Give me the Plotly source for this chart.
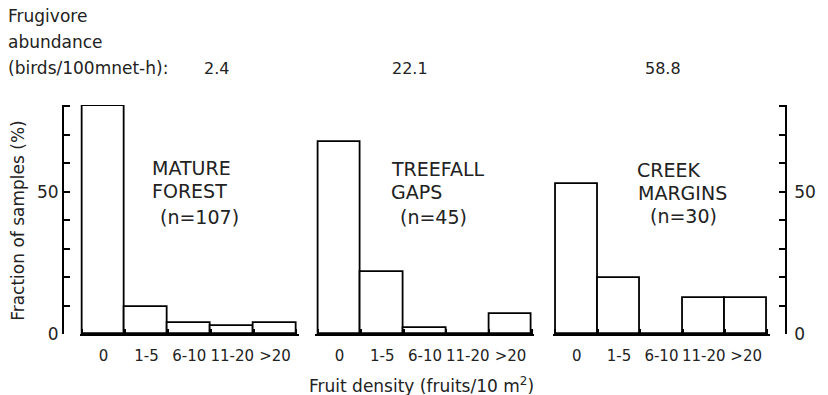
import plotly.graph_objects as go

categories = ["0", "1-5", "6-10", "11-20", ">20"]
mature_forest = [80.0, 9.4, 3.8, 2.7, 3.9]
treefall_gaps = [67.5, 21.9, 2.0, 0.0, 7.0]
creek_margins = [52.5, 19.8, 0.0, 12.6, 12.6]
abundance = ["2.4", "22.1", "58.8"]
habitat_names = [["MATURE", "FOREST", "(n=107)"],
                 ["TREEFALL", "GAPS", "(n=45)"],
                 ["CREEK", "MARGINS", "(n=30)"]]
y_ticks = [0, 10, 20, 30, 40, 50, 60, 70, 80]
y_ticklabels = ["0", "", "", "", "", "50", "", "", ""]

FONT = "DejaVu Sans"
TXT = "#222222"
LW = 1.8

fig = go.Figure()
series = [mature_forest, treefall_gaps, creek_margins]
for i, vals in enumerate(series):
    sfx = "" if i == 0 else str(i + 1)
    fig.add_trace(go.Bar(
        x=categories, y=vals, width=1.0, cliponaxis=False,
        marker=dict(color="white", line=dict(color="black", width=LW)),
        xaxis="x" + sfx, yaxis="y" + sfx, showlegend=False,
    ))

W, H = 828, 395
YTOP = 80.4
PAD = 0.06  # category padding so the outer bar edges are not clipped
L, R, B = 63, 28, 61
px_per_unit = (334 - 106) / 80.0
T = int(round(334 - YTOP * px_per_unit))
pw = W - L - R
ph = H - T - B

def px(x):
    return (x - L) / pw

def py(y):
    return (H - B - y) / ph

panel_px = [(82.5, 301), (323, 541), (565, 781)]

xcommon = dict(
    type="category", range=[-0.5 - PAD, 4.5 + PAD], showline=True,
    linecolor="black", linewidth=LW, ticks="inside", ticklen=5,
    tickcolor="black", tickwidth=1.5, tickson="boundaries", showgrid=False,
    zeroline=False, tickangle=0,
    tickfont=dict(family=FONT, size=15, color=TXT), ticklabelstandoff=7,
    fixedrange=True,
)
layout = dict(
    width=W, height=H, margin=dict(l=L, r=R, t=T, b=B),
    plot_bgcolor="white", paper_bgcolor="white", bargap=0,
    showlegend=False,
)
for i, (a, b) in enumerate(panel_px):
    sfx = "" if i == 0 else str(i + 1)
    bw = (b - a) / 5.0
    layout["xaxis" + sfx] = dict(xcommon, domain=[px(a - PAD * bw), px(b + PAD * bw)],
                                 anchor="y" + sfx)

ycommon = dict(
    range=[0, YTOP], showgrid=False, zeroline=False, showline=True,
    linecolor="black", linewidth=LW, ticks="inside", ticklen=6,
    tickcolor="black", tickwidth=1.5, tickvals=y_ticks, ticktext=y_ticklabels,
    tickfont=dict(family=FONT, size=17, color=TXT), fixedrange=True,
)
layout["yaxis"] = dict(ycommon, anchor="free", position=0, side="left")
layout["yaxis2"] = dict(range=[0, YTOP], visible=False, fixedrange=True)
layout["yaxis3"] = dict(ycommon, anchor="free", position=1, side="right",
                        ticklabelstandoff=4)
fig.update_layout(**layout)

ann = []
# top-left header
for text, y in [("Frugivore", 16), ("abundance", 42), ("(birds/100mnet-h):", 68)]:
    ann.append(dict(text=text, x=px(5), y=py(y), xanchor="left", yanchor="middle",
                    font=dict(family=FONT, size=17, color=TXT)))
for text, x in zip(abundance, [219, 417, 675]):
    ann.append(dict(text=text, x=px(x), y=py(68), xanchor="center", yanchor="middle",
                    font=dict(family=FONT, size=16, color=TXT)))
# habitat labels
label_pos = [[(152, 168), (152, 190.5), (160, 217)],
             [(395, 168.5), (395, 191.5), (404, 217)],
             [(646, 169.5), (647, 193), (659, 216)]]
for names, poss in zip(habitat_names, label_pos):
    for t, (x, y) in zip(names, poss):
        ann.append(dict(text=t, x=px(x), y=py(y), xanchor="left", yanchor="middle",
                        font=dict(family=FONT, size=19, color=TXT)))
# axis titles
ann.append(dict(text="Fraction of samples (%)", x=px(17), y=py(220), textangle=-90,
                xanchor="center", yanchor="middle", font=dict(family=FONT, size=17, color=TXT)))
ann.append(dict(text="Fruit density (fruits/10 m<sup>2</sup>)", x=px(428), y=py(385),
                xanchor="center", yanchor="middle", font=dict(family=FONT, size=17, color=TXT)))

for a in ann:
    a.update(xref="paper", yref="paper", showarrow=False)
fig.update_layout(annotations=ann)

fig.write_html("out.html")
